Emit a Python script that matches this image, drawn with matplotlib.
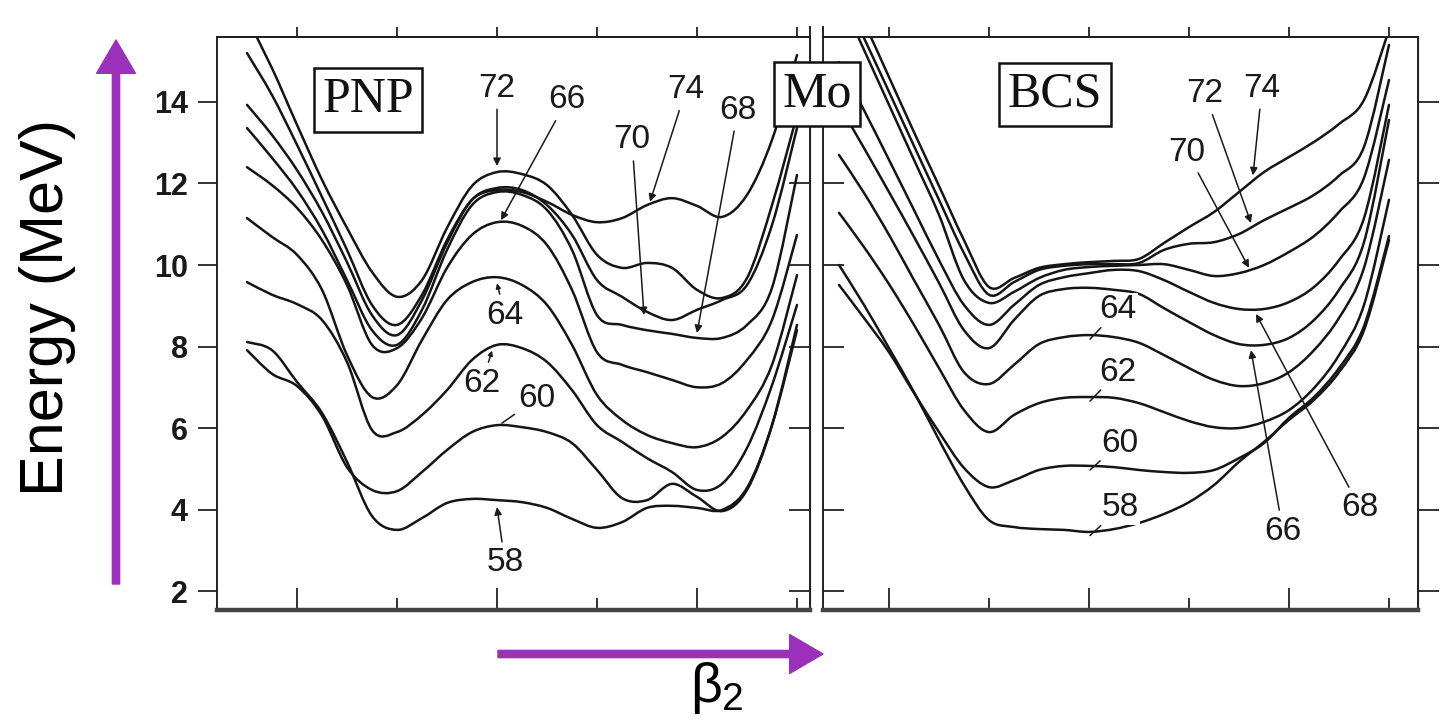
import matplotlib
matplotlib.use("Agg")
import matplotlib.pyplot as plt
from matplotlib.patches import FancyArrowPatch, PathPatch
from matplotlib.path import Path
from matplotlib.lines import Line2D

plt.rcParams['font.family'] = ['Liberation Sans', 'DejaVu Sans']
plt.rcParams['mathtext.fontset'] = 'custom'
plt.rcParams['mathtext.rm'] = 'Liberation Sans'
plt.rcParams['mathtext.it'] = 'Liberation Sans'

# deformation grid shared by both panels
beta = [-0.25, -0.225, -0.2, -0.175, -0.15, -0.125, -0.1, -0.075, -0.05, -0.025, 0.0,
        0.025, 0.05, 0.075, 0.1, 0.125, 0.15, 0.175, 0.2, 0.225, 0.25, 0.275, 0.3]
neutrons = [58, 60, 62, 64, 66, 68, 70, 72, 74]

# PNP energies (MeV)
pnp_58 = [8.11, 7.91, 7.13, 6.37, 5.17, 3.84, 3.50, 3.79, 4.16, 4.26, 4.23, 4.18, 4.04, 3.77, 3.55, 3.69, 4.04, 4.09, 4.04, 3.99, 4.53, 6.07, 8.40]
pnp_60 = [7.91, 7.33, 7.03, 6.30, 5.04, 4.48, 4.45, 4.92, 5.46, 5.90, 6.07, 6.02, 5.90, 5.63, 4.97, 4.28, 4.23, 4.63, 4.31, 3.96, 4.48, 6.07, 8.53]
pnp_62 = [9.58, 9.27, 9.04, 8.65, 7.62, 5.95, 5.90, 6.32, 6.93, 7.67, 8.04, 7.96, 7.62, 6.93, 6.07, 5.66, 5.26, 4.92, 4.48, 4.63, 5.51, 7.05, 9.02]
pnp_64 = [11.15, 10.69, 10.25, 9.39, 7.79, 6.76, 7.05, 8.16, 9.14, 9.58, 9.70, 9.51, 9.02, 8.04, 6.81, 6.20, 5.83, 5.63, 5.53, 5.78, 6.44, 7.55, 9.75]
pnp_66 = [12.40, 11.96, 11.40, 10.61, 9.51, 8.04, 7.96, 8.70, 9.93, 10.74, 11.05, 10.96, 10.49, 9.39, 7.86, 7.55, 7.37, 7.18, 7.00, 7.10, 7.67, 8.65, 10.74]
pnp_68 = [13.36, 12.63, 11.84, 10.86, 9.63, 8.40, 8.04, 8.90, 10.37, 11.47, 11.79, 11.72, 11.35, 10.37, 8.77, 8.53, 8.40, 8.31, 8.21, 8.21, 8.53, 9.44, 12.21]
pnp_70 = [13.93, 13.19, 12.33, 11.30, 10.07, 8.77, 8.28, 9.14, 10.54, 11.60, 11.89, 11.84, 11.47, 10.74, 9.63, 9.22, 8.85, 8.65, 8.90, 9.14, 9.51, 10.98, 13.36]
pnp_72 = [16.06, 14.83, 13.44, 12.09, 10.91, 9.83, 9.22, 9.63, 10.91, 11.94, 12.28, 12.23, 11.96, 11.23, 10.25, 9.93, 10.05, 9.93, 9.39, 9.19, 9.68, 11.47, 13.68]
pnp_74 = [15.20, 14.17, 12.95, 11.67, 10.37, 9.02, 8.53, 9.27, 10.61, 11.60, 11.84, 11.79, 11.55, 11.23, 11.05, 11.15, 11.47, 11.64, 11.45, 11.18, 11.72, 13.07, 15.15]

# BCS energies (MeV)
bcs_58 = [10.00, 9.02, 7.96, 6.88, 5.71, 4.60, 3.74, 3.57, 3.52, 3.50, 3.45, 3.52, 3.67, 3.89, 4.18, 4.60, 5.17, 5.66, 6.20, 6.69, 7.37, 8.40, 10.61]
bcs_60 = [9.51, 8.70, 7.86, 6.86, 5.90, 5.02, 4.55, 4.72, 4.97, 5.07, 5.07, 5.04, 4.97, 4.92, 4.90, 4.97, 5.26, 5.63, 6.25, 6.76, 7.47, 8.50, 10.71]
bcs_62 = [11.28, 10.44, 9.53, 8.53, 7.47, 6.44, 5.90, 6.32, 6.61, 6.74, 6.76, 6.74, 6.61, 6.39, 6.17, 6.02, 6.00, 6.15, 6.44, 6.98, 7.79, 9.02, 11.60]
bcs_64 = [12.70, 11.77, 10.74, 9.63, 8.53, 7.37, 7.08, 7.55, 8.06, 8.23, 8.28, 8.23, 8.09, 7.79, 7.47, 7.18, 7.03, 7.10, 7.37, 7.91, 8.70, 9.93, 12.58]
bcs_66 = [13.93, 12.87, 11.79, 10.69, 9.56, 8.40, 7.96, 8.65, 9.24, 9.41, 9.44, 9.39, 9.29, 8.94, 8.60, 8.28, 8.06, 8.04, 8.21, 8.65, 9.39, 10.56, 13.56]
bcs_68 = [14.98, 13.80, 12.58, 11.35, 10.12, 9.02, 8.53, 9.02, 9.51, 9.70, 9.80, 9.88, 9.85, 9.63, 9.34, 9.07, 8.92, 8.92, 9.09, 9.46, 10.12, 11.15, 13.93]
bcs_70 = [16.63, 15.28, 13.93, 12.58, 11.23, 9.63, 9.07, 9.34, 9.68, 9.88, 9.95, 9.98, 10.00, 10.02, 9.88, 9.73, 9.80, 10.00, 10.32, 10.71, 11.30, 12.14, 14.54]
bcs_72 = [16.87, 15.57, 14.25, 12.92, 11.60, 10.29, 9.27, 9.58, 9.88, 9.98, 10.02, 10.02, 10.05, 10.37, 10.52, 10.56, 10.76, 11.10, 11.40, 11.72, 12.19, 12.90, 15.40]
bcs_74 = [17.24, 15.96, 14.61, 13.26, 11.94, 10.61, 9.46, 9.68, 9.93, 10.02, 10.07, 10.10, 10.15, 10.54, 10.93, 11.30, 11.79, 12.28, 12.65, 13.02, 13.46, 14.05, 15.77]

pnp = dict(zip(neutrons, [pnp_58, pnp_60, pnp_62, pnp_64, pnp_66, pnp_68, pnp_70, pnp_72, pnp_74]))
bcs = dict(zip(neutrons, [bcs_58, bcs_60, bcs_62, bcs_64, bcs_66, bcs_68, bcs_70, bcs_72, bcs_74]))

energy_ticks = [2, 4, 6, 8, 10, 12, 14]
beta_major = [-0.2, 0.0, 0.2]
beta_minor = [-0.1, 0.1, 0.3]
beta_top = [-0.2, -0.1, 0.0, 0.1, 0.2, 0.3]


def curve_path(xs, ys):
    # smooth cubic path through every (x, y) pair (Catmull-Rom handles)
    pts = list(zip(xs, ys))
    verts, codes = [pts[0]], [Path.MOVETO]
    for i in range(len(pts) - 1):
        p0 = pts[max(i - 1, 0)]
        p1, p2 = pts[i], pts[i + 1]
        p3 = pts[min(i + 2, len(pts) - 1)]
        c1 = (p1[0] + (p2[0] - p0[0]) / 6, p1[1] + (p2[1] - p0[1]) / 6)
        c2 = (p2[0] - (p3[0] - p1[0]) / 6, p2[1] - (p3[1] - p1[1]) / 6)
        verts += [c1, c2, p2]
        codes += [Path.CURVE4] * 3
    return Path(verts, codes)


W, H = 1449, 724
fig = plt.figure(figsize=(W / 100, H / 100), dpi=100)


def rect(x0, y0, x1, y1):
    return [x0 / W, 1 - y1 / H, (x1 - x0) / W, (y1 - y0) / H]


axL = fig.add_axes(rect(217, 37, 810, 610))
axR = fig.add_axes(rect(823, 37, 1418, 610))

ink = '#151515'
for ax, data, xlim in [(axL, pnp, (-0.28, 0.313)), (axR, bcs, (-0.266, 0.329))]:
    for n in neutrons:
        ax.add_patch(PathPatch(curve_path(beta, data[n]), fill=False, ec=ink, lw=1.8,
                               joinstyle='round', capstyle='round', zorder=2))
    ax.set_xlim(*xlim)
    ax.set_ylim(1.534, 15.595)
    for s in ax.spines.values():
        s.set_linewidth(1.4)
        s.set_color('#222')
    ax.spines['bottom'].set_linewidth(3.2)
    ax.spines['bottom'].set_color('#444')
    ax.set_yticks(energy_ticks)
    ax.set_xticks(beta_major)
    ax.set_xticks(beta_minor, minor=True)
    ax.tick_params(axis='x', which='major', direction='in', length=16, width=1.3,
                   labelbottom=False, color='#222')
    ax.tick_params(axis='x', which='minor', direction='in', length=9, width=1.3, color='#222')
    top = ax.secondary_xaxis('top')
    top.set_xticks(beta_top)
    top.tick_params(direction='out', length=7, width=1.3, labeltop=False, color='#222')
    top.spines['top'].set_linewidth(1.4)

# left panel: labelled energy axis outside, inward ticks at the divider
axL.tick_params(axis='y', direction='out', length=14, width=1.3, labelsize=22,
                pad=7, labelcolor='#1a1a1a', color='#222')
for t in axL.get_yticklabels():
    t.set_fontweight('bold')
secL = axL.secondary_yaxis('right')
secL.set_yticks(energy_ticks)
secL.tick_params(direction='in', length=15, width=1.3, labelright=False, color='#222')

axR.tick_params(axis='y', direction='in', length=15, width=1.3, labelleft=False, color='#222')
secR = axR.secondary_yaxis('right')
secR.set_yticks(energy_ticks)
secR.tick_params(direction='out', length=15, width=1.3, labelright=False, color='#222')

lab = dict(fontsize=24, color='#1a1a1a', ha='center', va='center', zorder=6)
arrow = dict(arrowstyle='-|>', color='#1a1a1a', lw=1.1, mutation_scale=11, shrinkA=2, shrinkB=0)
tick = dict(arrowstyle='-', color='#1a1a1a', lw=1.1, shrinkA=1, shrinkB=0)
white = dict(fc='white', ec='none', pad=1.0)

# PNP labels
axL.annotate('72', xy=(0.0, 12.43), xytext=(0.0, 14.34), arrowprops=arrow, **lab)
axL.annotate('66', xy=(0.004, 11.10), xytext=(0.07, 14.05), arrowprops=arrow, **lab)
axL.annotate('74', xy=(0.153, 11.55), xytext=(0.189, 14.30), arrowprops=arrow, **lab)
axL.annotate('70', xy=(0.147, 8.77), xytext=(0.135, 13.07), arrowprops=arrow, **lab)
axL.annotate('68', xy=(0.2, 8.33), xytext=(0.241, 13.80), arrowprops=arrow, **lab)
axL.annotate('64', xy=(0.0, 9.55), xytext=(0.008, 8.77),
             arrowprops=dict(arrow, mutation_scale=7), **lab)
axL.annotate('62', xy=(-0.005, 7.90), xytext=(-0.015, 7.10),
             arrowprops=dict(arrow, mutation_scale=7), **lab)
axL.annotate('60', xy=(0.005, 6.12), xytext=(0.04, 6.72), arrowprops=tick, **lab)
axL.annotate('58', xy=(0.0, 4.06), xytext=(0.008, 2.69), arrowprops=arrow, **lab)

# BCS labels
axR.annotate('64', xy=(0.001, 8.18), xytext=(0.029, 8.90), arrowprops=tick, bbox=white, **lab)
axR.annotate('62', xy=(0.001, 6.66), xytext=(0.029, 7.37), arrowprops=tick, bbox=white, **lab)
axR.annotate('60', xy=(0.001, 4.97), xytext=(0.031, 5.63), arrowprops=tick, bbox=white, **lab)
axR.annotate('58', xy=(0.001, 3.36), xytext=(0.031, 4.04), arrowprops=tick, bbox=white, **lab)
axR.annotate('72', xy=(0.162, 11.03), xytext=(0.116, 14.20), arrowprops=arrow, **lab)
axR.annotate('74', xy=(0.164, 12.20), xytext=(0.173, 14.34), arrowprops=arrow, **lab)
axR.annotate('70', xy=(0.160, 9.93), xytext=(0.098, 12.77), arrowprops=arrow, **lab)
axR.annotate('66', xy=(0.162, 7.91), xytext=(0.194, 3.47), arrowprops=arrow, **lab)
axR.annotate('68', xy=(0.167, 8.80), xytext=(0.271, 4.04), arrowprops=arrow, **lab)

framed = dict(family='Liberation Serif', fontsize=36, color='#111', ha='center', va='center',
              zorder=8, bbox=dict(boxstyle='square,pad=0.17', fc='white', ec='#111', lw=1.8))
axL.text(-0.129, 14.05, 'PNP', **framed)
axR.text(-0.034, 14.18, 'BCS', **framed)
fig.text(817 / W, 1 - 94 / H, 'Mo', **framed)

# divider lines poke above the frame
for x in (810, 823):
    fig.add_artist(Line2D([x / W, x / W], [1 - 37 / H, 1 - 27 / H], color='#222', lw=1.4))

fig.text(48 / W, 1 - 308 / H, 'Energy (MeV)', rotation=90, fontsize=44,
         ha='center', va='center', color='black')
fig.text(717 / W, 1 - 688 / H, r'$\beta_2$', fontsize=40, ha='center', va='center')

purple = '#9b30ba'
style = 'simple,head_length=24,head_width=28,tail_width=5.2'
fig.add_artist(FancyArrowPatch((116 / W, 1 - 584 / H), (116 / W, 1 - 40 / H),
                               transform=fig.transFigure, arrowstyle=style,
                               mutation_scale=1, color=purple, shrinkA=0, shrinkB=0))
fig.add_artist(FancyArrowPatch((498 / W, 1 - 654 / H), (823 / W, 1 - 654 / H),
                               transform=fig.transFigure, arrowstyle=style,
                               mutation_scale=1, color=purple, shrinkA=0, shrinkB=0))

fig.savefig('out.png', dpi=100)
